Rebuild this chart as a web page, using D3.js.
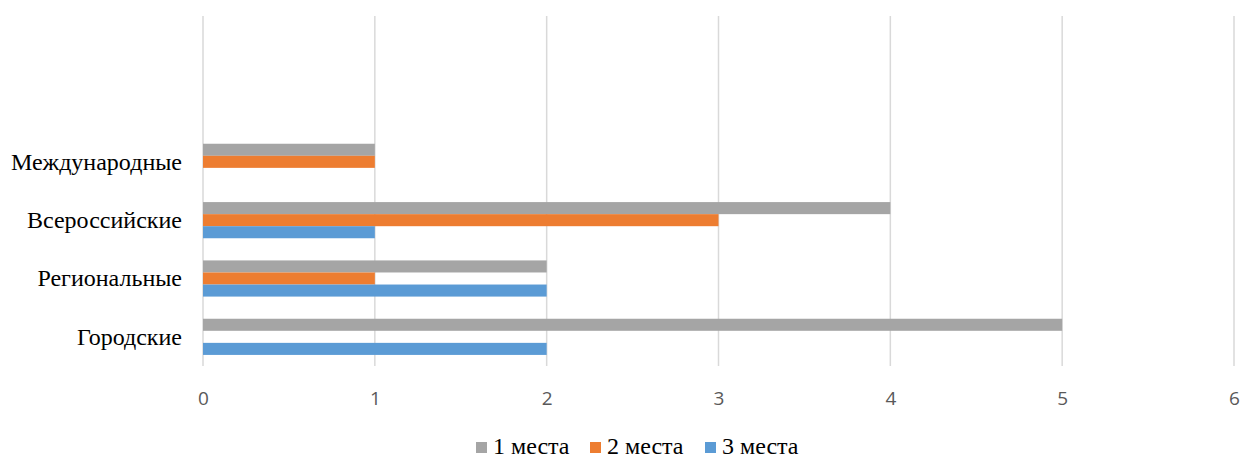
<!DOCTYPE html>
<html>
<head>
<meta charset="utf-8">
<script src="https://cdn.jsdelivr.net/npm/d3@7"></script>
<style>
  body { margin: 0; background: #fff; }
  .grid line { stroke: #d9d9d9; stroke-width: 1.5; }
  .x-axis text { font-family: "Open Sans", "Liberation Sans", sans-serif; font-size: 19px; fill: #595959; }
  .y-axis text { font-family: "Liberation Serif", "Times New Roman", serif; font-size: 24px; fill: #000; }
  .legend text { font-family: "Liberation Serif", "Times New Roman", serif; font-size: 24px; fill: #000; }
</style>
</head>
<body>
<div id="chart"></div>
<script>
// categories listed top to bottom; two empty rows sit above the data, as in the source
const categories = ['', '', 'Международные', 'Всероссийские', 'Региональные', 'Городские'];
const seriesNames = ['1 места', '2 места', '3 места'];
const firstPlaces = [0, 0, 1, 4, 2, 5];
const secondPlaces = [0, 0, 1, 3, 1, 0];
const thirdPlaces = [0, 0, 0, 1, 2, 2];
const xTicks = [0, 1, 2, 3, 4, 5, 6];
const colors = ['#a5a5a5', '#ed7d31', '#5b9bd5'];

const W = 1242, H = 458;
const margin = { top: 16, right: 8, bottom: 92, left: 203 };
const width = W - margin.left - margin.right;
const height = H - margin.top - margin.bottom;

const svg = d3.select('#chart').append('svg')
    .attr('width', W).attr('height', H)
    .append('g')
    .attr('transform', `translate(${margin.left},${margin.top})`);

const x = d3.scaleLinear().domain([0, 6]).range([0, 1031]);

const y = d3.scaleBand()
    .domain(d3.range(categories.length))
    .range([0, height])
    .paddingInner(0.38).paddingOuter(0.19);

const ySub = d3.scaleBand()
    .domain(d3.range(seriesNames.length))
    .range([0, y.bandwidth()]);

// Grid
svg.append('g')
    .attr('class', 'grid')
    .selectAll('line')
    .data(xTicks)
    .enter().append('line')
    .attr('x1', d => x(d)).attr('x2', d => x(d))
    .attr('y1', 0).attr('y2', height);

// Bars
const series = [firstPlaces, secondPlaces, thirdPlaces];
const rows = categories.map((c, i) => series.map((s, k) => ({ cat: i, k, v: s[i] })));

svg.selectAll('.group')
    .data(rows)
    .enter().append('g')
    .attr('class', 'group')
    .attr('transform', (d, i) => `translate(0,${y(i)})`)
    .selectAll('rect')
    .data(d => d.filter(e => e.v > 0))
    .enter().append('rect')
    .attr('x', x(0))
    .attr('y', d => ySub(d.k))
    .attr('width', d => x(d.v) - x(0))
    .attr('height', ySub.bandwidth())
    .attr('fill', d => colors[d.k]);

// X axis
const xAxis = svg.append('g')
    .attr('class', 'x-axis')
    .attr('transform', `translate(0,${height})`)
    .call(d3.axisBottom(x).tickValues(xTicks).tickFormat(d3.format('d')).tickSize(0).tickPadding(26));
xAxis.select('.domain').remove();

// Y axis
const yAxis = svg.append('g')
    .attr('class', 'y-axis')
    .call(d3.axisLeft(y).tickFormat(i => categories[i]).tickSize(0).tickPadding(21));
yAxis.select('.domain').remove();

// Legend
const legend = d3.select('#chart svg').append('g').attr('class', 'legend');
const legendX = [476, 590, 705];
seriesNames.forEach((name, k) => {
    legend.append('rect')
        .attr('x', legendX[k]).attr('y', 442)
        .attr('width', 11).attr('height', 11)
        .attr('fill', colors[k]);
    legend.append('text')
        .attr('x', legendX[k] + 17).attr('y', 454)
        .text(name);
});
</script>
</body>
</html>
